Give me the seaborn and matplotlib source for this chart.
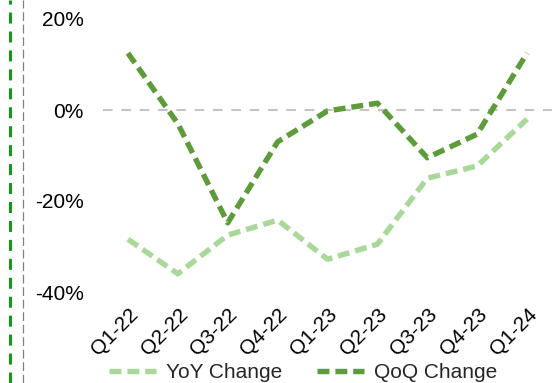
import matplotlib
matplotlib.use("Agg")
import matplotlib.pyplot as plt
from matplotlib.lines import Line2D
from matplotlib.ticker import FuncFormatter
import pandas as pd
import seaborn as sns

quarters = ["Q1-22", "Q2-22", "Q3-22", "Q4-22", "Q1-23", "Q2-23", "Q3-23", "Q4-23", "Q1-24"]
yoy_change = [-28.4, -36.0, -27.5, -24.2, -32.8, -29.5, -15.0, -12.3, -2.0]
qoq_change = [12.5, -3.0, -24.8, -7.0, -0.2, 1.5, -10.5, -5.3, 12.5]
series_names = ["YoY Change", "QoQ Change"]
y_ticks = [-40, -20, 0, 20]

df = pd.DataFrame({
    "quarter": quarters * 2,
    "value": yoy_change + qoq_change,
    "series": [series_names[0]] * len(quarters) + [series_names[1]] * len(quarters),
})

sns.set_theme(style="white")
plt.rcParams["font.family"] = ["Liberation Sans", "DejaVu Sans"]

W, H = 559, 383
fig = plt.figure(figsize=(W / 100, H / 100), dpi=100)
fig.patch.set_facecolor("white")

# axes placed so that 20% sits near the top and -40% at the bottom edge
left, right = 103 / W, 552 / W
bottom, top = 1 - 292 / H, 1 - 19 / H
ax = fig.add_axes([left, bottom, right - left, top - bottom])
ax.set_facecolor("white")

palette = {"YoY Change": "#A9D89A", "QoQ Change": "#5E9B3B"}
dashes = {"YoY Change": (2.2, 1.1), "QoQ Change": (2.2, 1.1)}

ax.axhline(0, color="#C4C4C4", lw=1.5, dashes=(4.6, 4.2), zorder=1)

sns.lineplot(data=df, x="quarter", y="value", hue="series", style="series",
             palette=palette, dashes=dashes, linewidth=3.9, sort=False,
             ax=ax, zorder=3)

ax.set_xlim(-0.5, len(quarters) - 0.5)
ax.set_ylim(-40, 20)
ax.set_yticks(y_ticks)
ax.yaxis.set_major_formatter(FuncFormatter(lambda v, p: f"{v:.0f}%"))
ax.set_xlabel("")
ax.set_ylabel("")
for s in ax.spines.values():
    s.set_visible(False)
ax.tick_params(axis="both", length=0, labelsize=15, colors="black")
ax.tick_params(axis="y", pad=14)
ax.tick_params(axis="x", pad=9)
for lab in ax.get_xticklabels():
    lab.set_rotation(45)
    lab.set_ha("right")
    lab.set_rotation_mode("anchor")

handles, labels = ax.get_legend_handles_labels()
ax.get_legend().remove()
fig.legend(handles, labels, loc="center", bbox_to_anchor=(303 / W, 1 - 373 / H),
           ncol=2, frameon=False, fontsize=15, handlelength=2.25,
           handletextpad=0.5, columnspacing=1.65)

# page border guides on the left
fig.add_artist(Line2D([10 / W, 10 / W], [0, 1], transform=fig.transFigure,
                      color="#12991A", lw=2.2, dashes=(3.6, 2.6)))
fig.add_artist(Line2D([23 / W, 23 / W], [0, 1], transform=fig.transFigure,
                      color="#808080", lw=0.9, dashes=(7, 3)))

fig.savefig("out.png", dpi=100, facecolor="white")
